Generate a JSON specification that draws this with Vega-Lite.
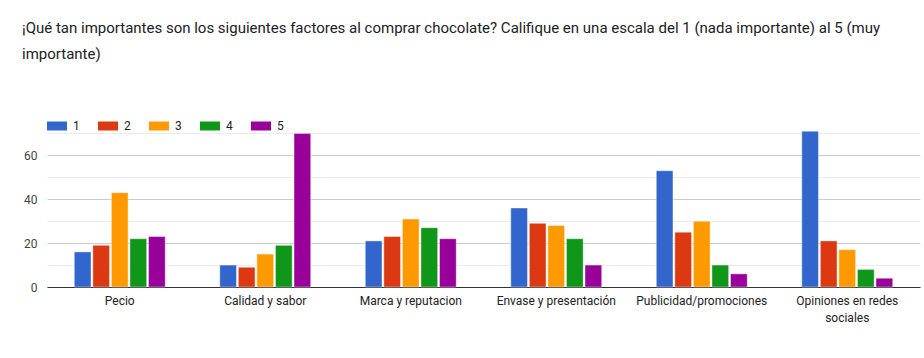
{
  "$schema": "https://vega.github.io/schema/vega-lite/v6.json",
  "width": 873,
  "height": 158,
  "autosize": {"type": "none"},
  "padding": {"left": 47, "top": 129, "right": 4, "bottom": 71},
  "background": "white",
  "title": {
    "text": ["¡Qué tan importantes son los siguientes factores al comprar chocolate? Califique en una escala del 1 (nada importante) al 5 (muy", "importante)"],
    "anchor": "start",
    "frame": "group",
    "dx": -25,
    "font": "Roboto",
    "fontSize": 15,
    "fontWeight": "normal",
    "color": "#202124",
    "lineHeight": 26,
    "offset": 54
  },
  "data": {
    "values": [
      {"factor": "Pecio", "rating": "1", "count": 16},
      {"factor": "Pecio", "rating": "2", "count": 19},
      {"factor": "Pecio", "rating": "3", "count": 43},
      {"factor": "Pecio", "rating": "4", "count": 22},
      {"factor": "Pecio", "rating": "5", "count": 23},
      {"factor": "Calidad y sabor", "rating": "1", "count": 10},
      {"factor": "Calidad y sabor", "rating": "2", "count": 9},
      {"factor": "Calidad y sabor", "rating": "3", "count": 15},
      {"factor": "Calidad y sabor", "rating": "4", "count": 19},
      {"factor": "Calidad y sabor", "rating": "5", "count": 70},
      {"factor": "Marca y reputacion", "rating": "1", "count": 21},
      {"factor": "Marca y reputacion", "rating": "2", "count": 23},
      {"factor": "Marca y reputacion", "rating": "3", "count": 31},
      {"factor": "Marca y reputacion", "rating": "4", "count": 27},
      {"factor": "Marca y reputacion", "rating": "5", "count": 22},
      {"factor": "Envase y presentación", "rating": "1", "count": 36},
      {"factor": "Envase y presentación", "rating": "2", "count": 29},
      {"factor": "Envase y presentación", "rating": "3", "count": 28},
      {"factor": "Envase y presentación", "rating": "4", "count": 22},
      {"factor": "Envase y presentación", "rating": "5", "count": 10},
      {"factor": "Publicidad/promociones", "rating": "1", "count": 53},
      {"factor": "Publicidad/promociones", "rating": "2", "count": 25},
      {"factor": "Publicidad/promociones", "rating": "3", "count": 30},
      {"factor": "Publicidad/promociones", "rating": "4", "count": 10},
      {"factor": "Publicidad/promociones", "rating": "5", "count": 6},
      {"factor": "Opiniones en redes sociales", "rating": "1", "count": 71},
      {"factor": "Opiniones en redes sociales", "rating": "2", "count": 21},
      {"factor": "Opiniones en redes sociales", "rating": "3", "count": 17},
      {"factor": "Opiniones en redes sociales", "rating": "4", "count": 8},
      {"factor": "Opiniones en redes sociales", "rating": "5", "count": 4}
    ]
  },
  "mark": {"type": "bar", "stroke": "#ffffff", "strokeWidth": 0.6, "strokeOpacity": 0.7},
  "encoding": {
    "x": {
      "field": "factor",
      "type": "nominal",
      "sort": null,
      "scale": {"paddingInner": 0.375, "paddingOuter": 0.1875},
      "axis": {
        "title": null,
        "labelAngle": 0,
        "ticks": false,
        "domainColor": "#333333",
        "domainWidth": 1,
        "labelFont": "Roboto",
        "labelFontSize": 12,
        "labelColor": "#222222",
        "labelPadding": 8,
        "labelLineHeight": 17,
        "labelExpr": "datum.label == 'Opiniones en redes sociales' ? ['Opiniones en redes', 'sociales'] : datum.label"
      }
    },
    "xOffset": {"field": "rating", "type": "nominal", "scale": {"paddingInner": 0.1}},
    "y": {
      "field": "count",
      "type": "quantitative",
      "scale": {"domain": [0, 72], "nice": false},
      "axis": {
        "title": null,
        "values": [0, 10, 20, 30, 40, 50, 60, 70],
        "labelExpr": "datum.value % 20 === 0 ? datum.label : ''",
        "domain": false,
        "ticks": false,
        "labelFont": "Roboto",
        "labelFontSize": 12,
        "labelColor": "#444444",
        "labelPadding": 10,
        "gridColor": {"condition": {"test": "datum.value % 20 === 0", "value": "#cccccc"}, "value": "#ebebeb"}
      }
    },
    "color": {
      "field": "rating",
      "type": "nominal",
      "scale": {"domain": ["1", "2", "3", "4", "5"], "range": ["#3366cc", "#dc3912", "#ff9900", "#109618", "#990099"]},
      "legend": {
        "title": null,
        "orient": "none",
        "legendX": 0,
        "legendY": -13,
        "direction": "horizontal",
        "symbolType": "M-1,-0.45H1V0.45H-1Z",
        "symbolSize": 400,
        "symbolStrokeWidth": 0,
        "symbolOpacity": 1,
        "labelFont": "Roboto",
        "labelFontSize": 12,
        "labelColor": "#222222",
        "labelOffset": 6,
        "columnPadding": 18
      }
    }
  },
  "config": {"view": {"stroke": null}}
}
